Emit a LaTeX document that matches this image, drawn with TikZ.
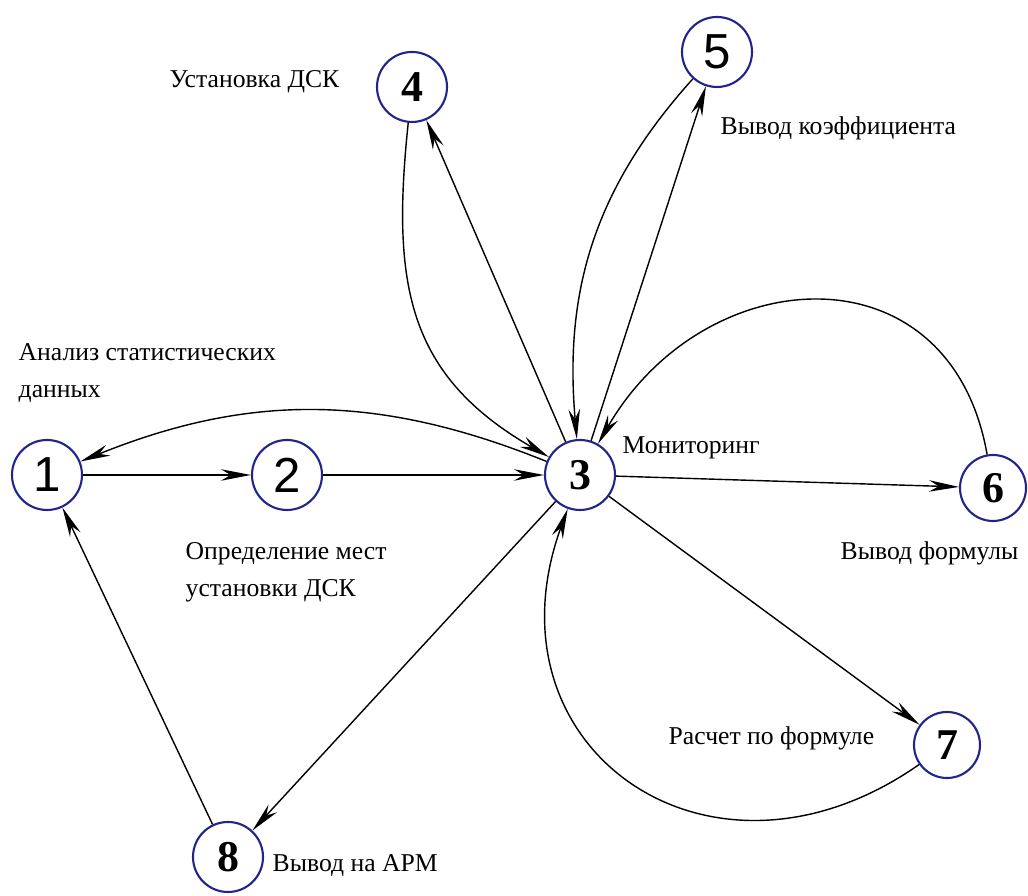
\documentclass[tikz,border=0pt]{standalone}
\usepackage{fontspec}
\setmainfont{Liberation Serif}
\newfontfamily\digitsans{Liberation Sans}
\usetikzlibrary{arrows.meta}
\definecolor{ringblue}{RGB}{35,35,140}

\begin{document}
\begin{tikzpicture}[
        vertex/.style={circle, draw=ringblue, line width=0.6pt, minimum size=0.7cm, inner sep=0pt, fill=white},
        sansnum/.style={font=\digitsans\fontsize{14}{14}\selectfont},
        serifnum/.style={font=\bfseries\fontsize{12.5}{13}\selectfont},
        lbl/.style={inner sep=0pt, align=left, anchor=west, font=\fontsize{7.3}{10.5}\selectfont},
        >={Stealth[length=3mm, width=1.15mm]},
        every edge/.style={draw, line width=0.4pt}
    ]
    \useasboundingbox (0, 0) rectangle (10.28, 8.96);

    \node[vertex, sansnum] (n1) at (0.47, 4.21) {1};
    \node[vertex, sansnum] (n2) at (2.87, 4.21) {2};
    \node[vertex, serifnum] (n3) at (5.80, 4.21) {3};
    \node[vertex, serifnum] (n4) at (4.12, 8.09) {4};
    \node[vertex, sansnum] (n5) at (7.17, 8.44) {5};
    \node[vertex, serifnum, minimum size=0.66cm] (n6) at (9.93, 4.08) {6};
    \node[vertex, serifnum, minimum size=0.66cm] (n7) at (9.47, 1.51) {7};
    \node[vertex, serifnum] (n8) at (2.28, 0.39) {8};

    \node[lbl] (l1) at (0.18, 5.23) {Анализ статистических\\данных};
    \node[lbl] (l2) at (1.85, 3.24) {Определение мест\\установки ДСК};
    \node[lbl] (l3) at (6.22, 4.48) {Мониторинг};
    \node[lbl, anchor=east] (l4) at (3.40, 8.14) {Установка ДСК};
    \node[lbl] (l5) at (7.20, 7.68) {Вывод коэффициента};
    \node[lbl] (l6) at (8.40, 3.43) {Вывод формулы};
    \node[lbl] (l7) at (6.68, 1.58) {Расчет по формуле};
    \node[lbl] (l8) at (2.72, 0.30) {Вывод на АРМ};

    \draw
    (n1) edge[->] (n2)
    (n2) edge[->] (n3)
    (n3) edge[->, bend right=22] (n1)
    (n3) edge[->] (n4)
    (n4) edge[->, out=264, in=150, looseness=1.15] (n3)
    (n3) edge[->] (n5)
    (n5) edge[->, out=228, in=95] (n3)
    (n3) edge[->] (n6)
    (n6) edge[->, out=100, in=60, looseness=1.4] (n3)
    (n3) edge[->] (n7)
    (n7) edge[->, out=215, in=250, looseness=1.5] (n3)
    (n3) edge[->] (n8)
    (n8) edge[->] (n1);
\end{tikzpicture}
\end{document}
